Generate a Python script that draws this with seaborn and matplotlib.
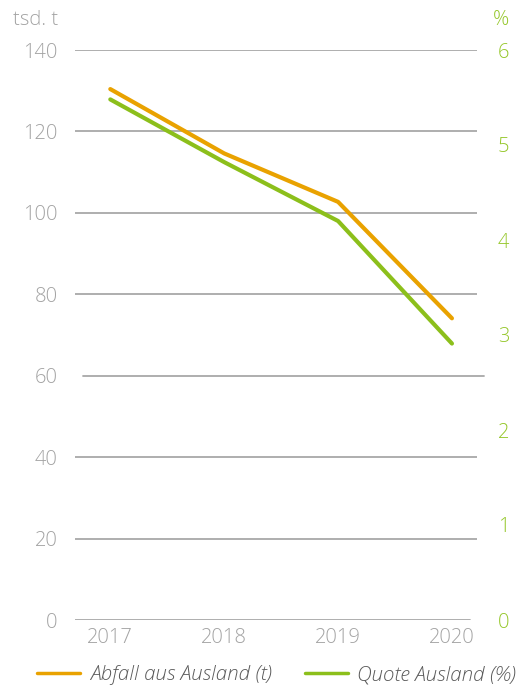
import matplotlib
matplotlib.use("Agg")
import matplotlib.pyplot as plt
from matplotlib.lines import Line2D
import seaborn as sns
import pandas as pd

# Jahreswerte
years = ["2017", "2018", "2019", "2020"]
abfall_tsd_t = [130.4, 114.6, 102.7, 74.1]      # Abfall aus Ausland, tsd. t
quote_prozent = [5.48, 4.82, 4.20, 2.91]        # Quote Ausland, %

left_ticks = [0, 20, 40, 60, 80, 100, 120, 140]
right_ticks = [0, 1, 2, 3, 4, 5, 6]

ORANGE = "#E9A200"
GREEN = "#8CBF1B"
GREEN_TXT = "#95C72A"
GREY_TXT = "#A3A3A3"
GRID = "#A8A8A8"

sns.set_theme(style="white")
plt.rcParams["font.family"] = ["Open Sans", "DejaVu Sans"]
plt.rcParams["font.weight"] = "light"

df = pd.DataFrame({"Jahr": years, "x": range(len(years)),
                   "Abfall": abfall_tsd_t, "Quote": quote_prozent})

W, H = 530, 688
fig = plt.figure(figsize=(W / 100, H / 100), dpi=100)
ax = fig.add_axes([75 / W, 1 - 620 / H, (477 - 75) / W, 570 / H])
ax2 = ax.twinx()

sns.lineplot(data=df, x="x", y="Abfall", ax=ax, color=ORANGE, linewidth=3.0)
sns.lineplot(data=df, x="x", y="Quote", ax=ax2, color=GREEN, linewidth=3.0)

ax.set_xlim(-0.31, 3.22)
ax.set_ylim(0, 140)
ax2.set_ylim(0, 6)

# horizontale Hilfslinien
for v in left_ticks:
    if v == 60:
        ax.axhline(v, xmin=8 / 402, xmax=1 + 7 / 402, color=GRID, lw=1.3,
                   zorder=0, clip_on=False)
    elif v == 0:
        ax.axhline(v, xmin=0, xmax=395 / 402, color=GRID, lw=1.3, zorder=0)
    else:
        ax.axhline(v, color=GRID, lw=1.3, zorder=0)

for a in (ax, ax2):
    for s in a.spines.values():
        s.set_visible(False)
    a.set_xlabel("")
    a.set_ylabel("")

FS = 14.5
ax.set_xticks(range(len(years)))
ax.set_xticklabels(years)
ax.set_yticks(left_ticks)
ax.tick_params(axis="y", length=0, pad=12.5, labelsize=FS, labelcolor=GREY_TXT)
ax.tick_params(axis="x", length=0, pad=6, labelsize=FS, labelcolor=GREY_TXT)
ax2.set_yticks(right_ticks)
ax2.tick_params(axis="y", length=0, pad=15, labelsize=FS, labelcolor=GREEN_TXT)

fig.text(13 / W, 1 - 20 / H, "tsd. t", fontsize=FS, color=GREY_TXT,
         ha="left", va="center")
fig.text(493 / W, 1 - 20 / H, "%", fontsize=FS, color=GREEN_TXT,
         ha="left", va="center")

handles = [Line2D([], [], color=ORANGE, lw=2.5),
           Line2D([], [], color=GREEN, lw=2.5)]
labels = ["Abfall aus Ausland (t)", "Quote Ausland (%)"]
leg = fig.legend(handles, labels, loc="center", bbox_to_anchor=(0.522, 1 - 675 / H),
                 ncol=2, frameon=False, handlelength=2.1, handletextpad=0.45,
                 columnspacing=1.6,
                 prop={"style": "italic", "size": 14.8, "weight": "light"})
for t in leg.get_texts():
    t.set_color("#5A5A5A")

fig.savefig("out.png", dpi=100)
